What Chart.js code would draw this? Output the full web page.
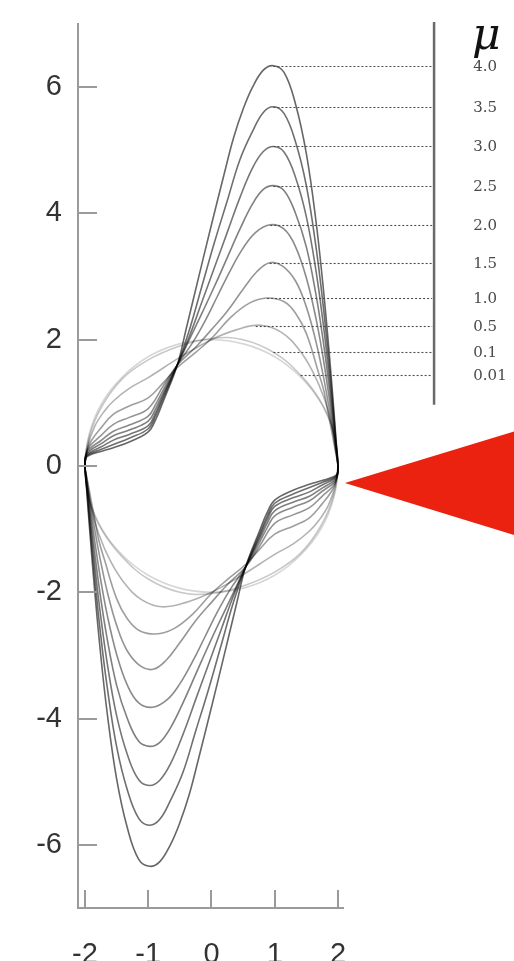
<!DOCTYPE html>
<html>
<head>
<meta charset="utf-8">
<script src="https://cdn.jsdelivr.net/npm/chart.js@4/dist/chart.umd.min.js"></script>
<style>
  html, body { margin: 0; padding: 0; background: #ffffff; }
  #wrap { width: 514px; height: 961px; position: relative; }
</style>
</head>
<body>
<div id="wrap"><canvas id="c" width="514" height="961"></canvas></div>
<script>
// Van der Pol limit cycles in the (x, dx/dt) plane, one closed loop per damping value mu.
const muLabels = ['4.0', '3.5', '3.0', '2.5', '2.0', '1.5', '1.0', '0.5', '0.1', '0.01'];
const xTicks = [-2, -1, 0, 1, 2];
const yTicks = [-6, -4, -2, 0, 2, 4, 6];

// Each loop starts at the left turning point, runs over the top to the right, then back underneath.
const mu40X = [-2.0,-1.99,-1.93,-1.75,-1.55,-1.3,-1.0,-0.88,-0.76,-0.54,-0.4,-0.2,0.0,0.2,0.35,0.5,0.65,0.82,0.98,1.15,1.33,1.5,1.65,1.76,1.85,1.92,1.97,2.0,
               1.99,1.93,1.75,1.55,1.3,1.0,0.88,0.76,0.54,0.4,0.2,0.0,-0.2,-0.35,-0.5,-0.65,-0.82,-0.98,-1.15,-1.33,-1.5,-1.65,-1.76,-1.85,-1.92,-1.97,-2.0];
const mu40Y = [0,0.12,0.17,0.23,0.29,0.38,0.54,0.74,1.03,1.6,2.17,3.0,3.82,4.62,5.2,5.65,6.0,6.27,6.34,6.23,5.73,4.95,3.9,2.9,1.93,1.08,0.42,0,
               -0.12,-0.17,-0.23,-0.29,-0.38,-0.54,-0.74,-1.03,-1.6,-2.17,-3.0,-3.82,-4.62,-5.2,-5.65,-6.0,-6.27,-6.34,-6.23,-5.73,-4.95,-3.9,-2.9,-1.93,-1.08,-0.42,0];

const mu35X = [-2.0,-1.99,-1.93,-1.75,-1.55,-1.3,-1.0,-0.88,-0.76,-0.54,-0.35,-0.15,0.05,0.25,0.45,0.65,0.82,0.98,1.15,1.33,1.5,1.65,1.76,1.85,1.92,1.97,2.0,
               1.99,1.93,1.75,1.55,1.3,1.0,0.88,0.76,0.54,0.35,0.15,-0.05,-0.25,-0.45,-0.65,-0.82,-0.98,-1.15,-1.33,-1.5,-1.65,-1.76,-1.85,-1.92,-1.97,-2.0];
const mu35Y = [0,0.13,0.19,0.26,0.34,0.44,0.59,0.8,1.08,1.6,2.15,2.85,3.55,4.2,4.85,5.3,5.6,5.69,5.58,5.13,4.44,3.49,2.6,1.73,0.97,0.38,0,
               -0.13,-0.19,-0.26,-0.34,-0.44,-0.59,-0.8,-1.08,-1.6,-2.15,-2.85,-3.55,-4.2,-4.85,-5.3,-5.6,-5.69,-5.58,-5.13,-4.44,-3.49,-2.6,-1.73,-0.97,-0.38,0];

const mu30X = [-2.0,-1.99,-1.93,-1.75,-1.55,-1.3,-1.0,-0.88,-0.76,-0.54,-0.35,-0.15,0.05,0.25,0.45,0.65,0.82,0.98,1.15,1.33,1.5,1.65,1.76,1.85,1.92,1.97,2.0,
               1.99,1.93,1.75,1.55,1.3,1.0,0.88,0.76,0.54,0.35,0.15,-0.05,-0.25,-0.45,-0.65,-0.82,-0.98,-1.15,-1.33,-1.5,-1.65,-1.76,-1.85,-1.92,-1.97,-2.0];
const mu30Y = [0,0.14,0.21,0.3,0.41,0.5,0.64,0.85,1.12,1.6,2.05,2.6,3.15,3.7,4.25,4.72,4.98,5.06,4.97,4.57,3.95,3.11,2.31,1.54,0.86,0.33,0,
               -0.14,-0.21,-0.3,-0.41,-0.5,-0.64,-0.85,-1.12,-1.6,-2.05,-2.6,-3.15,-3.7,-4.25,-4.72,-4.98,-5.06,-4.97,-4.57,-3.95,-3.11,-2.31,-1.54,-0.86,-0.33,0];

const mu25X = [-2.0,-1.99,-1.93,-1.75,-1.55,-1.3,-1.0,-0.88,-0.76,-0.54,-0.35,-0.15,0.05,0.25,0.45,0.65,0.82,0.98,1.15,1.33,1.5,1.65,1.76,1.85,1.92,1.97,2.0,
               1.99,1.93,1.75,1.55,1.3,1.0,0.88,0.76,0.54,0.35,0.15,-0.05,-0.25,-0.45,-0.65,-0.82,-0.98,-1.15,-1.33,-1.5,-1.65,-1.76,-1.85,-1.92,-1.97,-2.0];
const mu25Y = [0,0.15,0.24,0.35,0.48,0.57,0.71,0.91,1.16,1.6,2.0,2.42,2.85,3.3,3.75,4.15,4.38,4.44,4.36,4.0,3.47,2.73,2.03,1.35,0.76,0.29,0,
               -0.15,-0.24,-0.35,-0.48,-0.57,-0.71,-0.91,-1.16,-1.6,-2.0,-2.42,-2.85,-3.3,-3.75,-4.15,-4.38,-4.44,-4.36,-4.0,-3.47,-2.73,-2.03,-1.35,-0.76,-0.29,0];

const mu20X = [-2.0,-1.99,-1.93,-1.75,-1.55,-1.3,-1.0,-0.88,-0.76,-0.54,-0.3,-0.1,0.1,0.3,0.5,0.7,0.93,1.15,1.33,1.5,1.65,1.76,1.85,1.92,1.97,2.0,
               1.99,1.93,1.75,1.55,1.3,1.0,0.88,0.76,0.54,0.3,0.1,-0.1,-0.3,-0.5,-0.7,-0.93,-1.15,-1.33,-1.5,-1.65,-1.76,-1.85,-1.92,-1.97,-2.0];
const mu20Y = [0,0.17,0.27,0.4,0.55,0.65,0.79,0.98,1.21,1.6,1.95,2.3,2.7,3.1,3.45,3.7,3.82,3.75,3.47,2.98,2.35,1.75,1.16,0.65,0.25,0,
               -0.17,-0.27,-0.4,-0.55,-0.65,-0.79,-0.98,-1.21,-1.6,-1.95,-2.3,-2.7,-3.1,-3.45,-3.7,-3.82,-3.75,-3.47,-2.98,-2.35,-1.75,-1.16,-0.65,-0.25,0];

const mu15X = [-2.0,-1.98,-1.92,-1.75,-1.55,-1.3,-1.0,-0.76,-0.54,-0.25,0.0,0.25,0.5,0.72,0.92,1.12,1.33,1.5,1.65,1.76,1.85,1.92,1.97,2.0,
               1.98,1.92,1.75,1.55,1.3,1.0,0.76,0.54,0.25,0.0,-0.25,-0.5,-0.72,-0.92,-1.12,-1.33,-1.5,-1.65,-1.76,-1.85,-1.92,-1.97,-2.0];
const mu15Y = [0,0.2,0.32,0.48,0.66,0.77,0.91,1.27,1.6,1.88,2.16,2.45,2.8,3.08,3.22,3.17,2.93,2.52,1.98,1.47,0.98,0.55,0.21,0,
               -0.2,-0.32,-0.48,-0.66,-0.77,-0.91,-1.27,-1.6,-1.88,-2.16,-2.45,-2.8,-3.08,-3.22,-3.17,-2.93,-2.52,-1.98,-1.47,-0.98,-0.55,-0.21,0];

const mu10X = [-2.0,-1.97,-1.9,-1.75,-1.55,-1.3,-1.0,-0.76,-0.54,-0.25,0.0,0.3,0.6,0.88,1.15,1.33,1.5,1.69,1.78,1.85,1.92,1.96,2.0,
               1.97,1.9,1.75,1.55,1.3,1.0,0.76,0.54,0.25,0.0,-0.3,-0.6,-0.88,-1.15,-1.33,-1.5,-1.69,-1.78,-1.85,-1.92,-1.96,-2.0];
const mu10Y = [0,0.24,0.4,0.6,0.82,0.95,1.08,1.32,1.56,1.8,2.02,2.35,2.58,2.66,2.6,2.42,2.1,1.49,1.18,0.82,0.45,0.23,0,
               -0.24,-0.4,-0.6,-0.82,-0.95,-1.08,-1.32,-1.56,-1.8,-2.02,-2.35,-2.58,-2.66,-2.6,-2.42,-2.1,-1.49,-1.18,-0.82,-0.45,-0.23,0];

const mu05X = [-2.0,-1.96,-1.85,-1.7,-1.55,-1.3,-1.0,-0.5,0.0,0.4,0.78,1.1,1.38,1.6,1.78,1.9,1.97,2.0,
               1.96,1.85,1.7,1.55,1.3,1.0,0.5,0.0,-0.4,-0.78,-1.1,-1.38,-1.6,-1.78,-1.9,-1.97,-2.0];
const mu05Y = [0,0.3,0.62,0.86,1.03,1.23,1.4,1.72,2.0,2.16,2.23,2.12,1.85,1.5,1.08,0.66,0.3,0,
               -0.3,-0.62,-0.86,-1.03,-1.23,-1.4,-1.72,-2.0,-2.16,-2.23,-2.12,-1.85,-1.5,-1.08,-0.66,-0.3,0];

const mu01X = [-2.0,-1.93,-1.73,-1.41,-1.0,-0.5,0.0,0.5,1.0,1.41,1.73,1.93,2.0,
               1.93,1.73,1.41,1.0,0.5,0.0,-0.5,-1.0,-1.41,-1.73,-1.93,-2.0];
const mu01Y = [0,0.47,0.95,1.38,1.68,1.9,2.02,2.0,1.79,1.44,1.02,0.55,0,
               -0.47,-0.95,-1.38,-1.68,-1.9,-2.02,-2.0,-1.79,-1.44,-1.02,-0.55,0];

const mu001X = [-2.0,-1.93,-1.73,-1.41,-1.0,-0.52,0.0,0.52,1.0,1.41,1.73,1.93,2.0,
                1.93,1.73,1.41,1.0,0.52,0.0,-0.52,-1.0,-1.41,-1.73,-1.93,-2.0];
const mu001Y = [0,0.52,1.0,1.41,1.73,1.93,2.0,1.93,1.73,1.41,1.0,0.52,0,
                -0.52,-1.0,-1.41,-1.73,-1.93,-2.0,-1.93,-1.73,-1.41,-1.0,-0.52,0];

// Legend leader lines: the point on each cycle where the dotted line begins.
const leaderX = [0.98, 0.98, 0.98, 0.98, 0.93, 0.92, 0.88, 0.70, 0.98, 1.41];
const leaderY = [6.34, 5.69, 5.06, 4.44, 3.82, 3.22, 2.66, 2.22, 1.81, 1.44];

const loopsX = [mu40X, mu35X, mu30X, mu25X, mu20X, mu15X, mu10X, mu05X, mu01X, mu001X];
const loopsY = [mu40Y, mu35Y, mu30Y, mu25Y, mu20Y, mu15Y, mu10Y, mu05Y, mu01Y, mu001Y];
const strokeAlpha = [0.6, 0.57, 0.54, 0.5, 0.46, 0.42, 0.38, 0.3, 0.22, 0.16];

// Closed loop: repeat one point on either side of the seam so the spline stays smooth there.
function closedLoop(xs, ys) {
  const pts = xs.map((x, i) => ({ x: x, y: ys[i] }));
  const n = pts.length;
  return [pts[n - 2]].concat(pts, [pts[1]]);
}

const datasets = loopsX.map((xs, i) => ({
  label: 'mu = ' + muLabels[i],
  data: closedLoop(xs, loopsY[i]),
  showLine: true,
  borderColor: 'rgba(0,0,0,' + strokeAlpha[i] + ')',
  borderWidth: 1.6,
  pointRadius: 0,
  tension: 0.4,
  fill: false
}));

// Legend column geometry, in data units of the same scales.
const legendBarX = 3.52;
const legendBarTop = 7.03;
const legendBarBottom = 0.97;
const leaderEndX = 3.49;
const labelX = 4.14;
const muSymbolPos = [4.12, 6.6];
// Red pointer on the right edge: tip, upper corner, lower corner.
const pointerX = [2.11, 4.9, 4.9];
const pointerY = [-0.27, 0.58, -1.13];

const axisColor = '#9a9a9a';

const decorations = {
  id: 'decorations',
  afterDraw(chart) {
    const ctx = chart.ctx;
    const xs = chart.scales.x, ys = chart.scales.y;
    const area = chart.chartArea;
    ctx.save();
    // inward tick marks
    ctx.strokeStyle = axisColor;
    ctx.lineWidth = 2;
    ctx.beginPath();
    yTicks.forEach(v => {
      const py = Math.round(ys.getPixelForValue(v));
      ctx.moveTo(area.left, py); ctx.lineTo(area.left + 19, py);
    });
    xTicks.forEach(v => {
      const px = Math.round(xs.getPixelForValue(v));
      ctx.moveTo(px, area.bottom); ctx.lineTo(px, area.bottom - 18);
    });
    ctx.stroke();

    // dotted leader lines
    ctx.strokeStyle = '#4a4a4a';
    ctx.lineWidth = 1.1;
    ctx.setLineDash([2, 2]);
    leaderY.forEach((v, i) => {
      const py = Math.round(ys.getPixelForValue(v)) + 0.5;
      ctx.beginPath();
      ctx.moveTo(xs.getPixelForValue(leaderX[i]), py);
      ctx.lineTo(xs.getPixelForValue(leaderEndX), py);
      ctx.stroke();
    });
    ctx.setLineDash([]);

    // legend bar
    ctx.strokeStyle = '#6a6a6a';
    ctx.lineWidth = 2.5;
    ctx.beginPath();
    const bx = xs.getPixelForValue(legendBarX);
    ctx.moveTo(bx, ys.getPixelForValue(legendBarTop));
    ctx.lineTo(bx, ys.getPixelForValue(legendBarBottom));
    ctx.stroke();

    // legend labels
    ctx.fillStyle = '#4a4a4a';
    ctx.font = '15px "DejaVu Serif"';
    ctx.textAlign = 'left';
    ctx.textBaseline = 'middle';
    muLabels.forEach((t, i) => {
      ctx.fillText(t, xs.getPixelForValue(labelX), ys.getPixelForValue(leaderY[i]) + 1);
    });
    ctx.fillStyle = '#111111';
    ctx.font = 'italic 44px "DejaVu Serif"';
    ctx.textBaseline = 'alphabetic';
    ctx.fillText('\u03bc', xs.getPixelForValue(muSymbolPos[0]), ys.getPixelForValue(muSymbolPos[1]));

    // red pointer
    ctx.fillStyle = '#ec2210';
    ctx.beginPath();
    pointerX.forEach((v, i) => {
      const px = xs.getPixelForValue(v), py = ys.getPixelForValue(pointerY[i]);
      if (i === 0) ctx.moveTo(px, py); else ctx.lineTo(px, py);
    });
    ctx.closePath();
    ctx.fill();
    ctx.restore();
  }
};

const tickFont = { family: '"Liberation Sans", Arial, sans-serif', size: 29 };

new Chart(document.getElementById('c'), {
  type: 'scatter',
  data: { datasets: datasets },
  options: {
    responsive: false,
    animation: false,
    devicePixelRatio: 1,
    layout: { padding: { top: 24, right: 171, left: 0, bottom: 0 } },
    plugins: { legend: { display: false }, tooltip: { enabled: false } },
    elements: { point: { radius: 0 } },
    scales: {
      x: {
        type: 'linear', min: -2.11, max: 2.08,
        grid: { display: false },
        border: { display: true, color: axisColor, width: 2 },
        ticks: { font: tickFont, color: '#333333', padding: 22, maxRotation: 0, callback: v => String(v) },
        afterBuildTicks: s => { s.ticks = xTicks.map(v => ({ value: v })); },
        afterFit: s => { s.height = 53; s.paddingLeft = 0; s.paddingRight = 0; }
      },
      y: {
        type: 'linear', min: -7, max: 7,
        grid: { display: false },
        border: { display: true, color: axisColor, width: 2 },
        ticks: { font: tickFont, color: '#333333', padding: 8, callback: v => String(v) },
        afterBuildTicks: s => { s.ticks = yTicks.map(v => ({ value: v })); },
        afterFit: s => { s.width = 78; s.paddingTop = 0; s.paddingBottom = 0; }
      }
    }
  },
  plugins: [decorations]
});
</script>
</body>
</html>
